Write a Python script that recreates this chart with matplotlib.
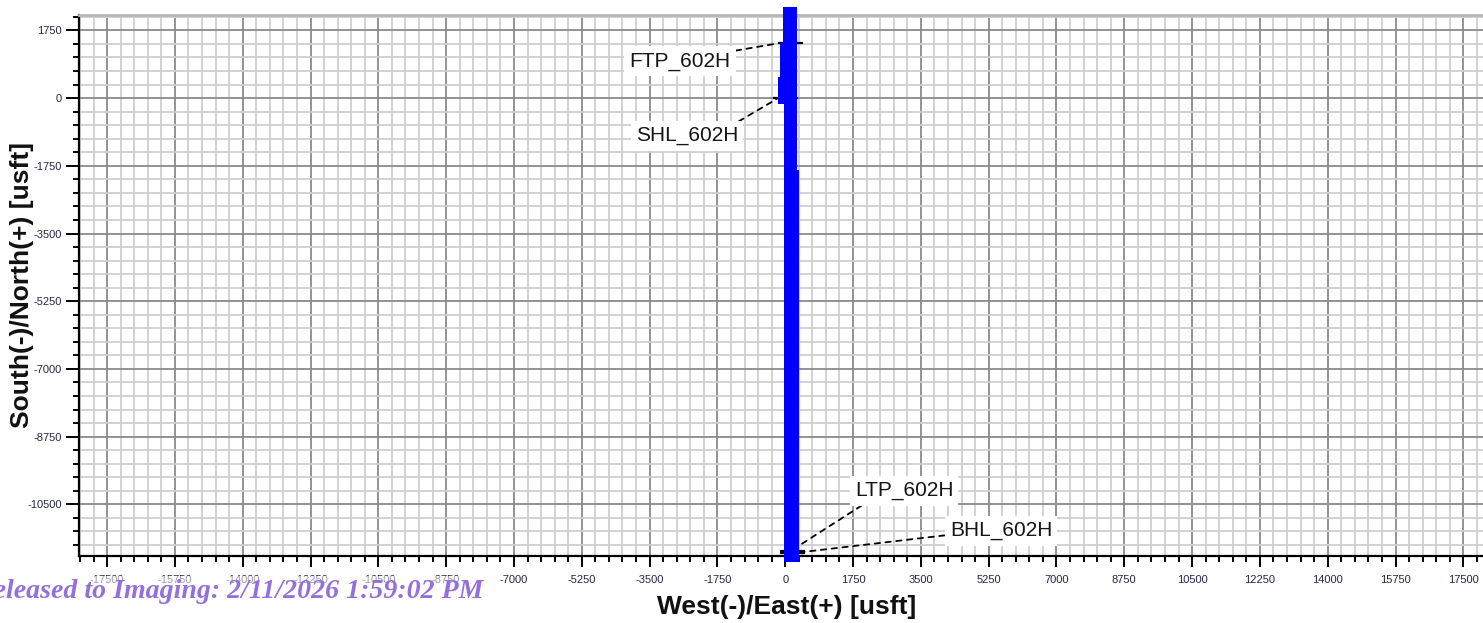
import matplotlib
matplotlib.use("Agg")
import matplotlib.pyplot as plt
import numpy as np
from matplotlib.ticker import MultipleLocator

# ---------------- data ----------------
# wellbore band (plan view), north segments and east edges [usft]
band_top_n = [2360, 1416, 545, -150, -1870]
band_bot_n = [1416, 545, -150, -1870, -11980]
band_west_e = [-65, -135, -194, -31, -31]
band_east_e = [312, 312, 312, 312, 364]

# target points
point_names = ["FTP_602H", "SHL_602H", "LTP_602H", "BHL_602H"]
point_e = [124, 0, 175, 175]
point_n = [1416, 0, -11706, -11771]
# leader-line anchors on the well
anchor_e = [-186, -220, 382, 459]
anchor_n = [1416, -24, -11551, -11732]

x_ticks = list(range(-17500, 17501, 1750))
y_ticks = list(range(-10500, 1751, 1750))

# ---------------- layout ----------------
W, H = 1483, 623
fig = plt.figure(figsize=(W / 100, H / 100), dpi=100)
ax_l, ax_r, ax_t, ax_b = 79, 1483, 15, 555.7
ax = fig.add_axes([ax_l / W, (H - ax_b) / H, (ax_r - ax_l) / W, (ax_b - ax_t) / H])
ax.set_xlim(-18225, 18008)
ax.set_ylim(-11828, 2148)

# grid
ax.xaxis.set_major_locator(MultipleLocator(1750))
ax.yaxis.set_major_locator(MultipleLocator(1750))
ax.xaxis.set_minor_locator(MultipleLocator(350))
ax.yaxis.set_minor_locator(MultipleLocator(350))
ax.grid(True, which="minor", color="#cfcfcf", linewidth=1.3, zorder=0)
ax.grid(True, which="major", color="#8a8a8a", linewidth=1.3, zorder=0)
ax.set_axisbelow(True)

ax.set_xticks(x_ticks)
ax.set_xticklabels([str(v) for v in x_ticks])
ax.set_yticks(y_ticks)
ax.set_yticklabels([str(v) for v in y_ticks])

tick_color = "#26264a"
ax.tick_params(axis="x", which="major", direction="out", length=8, width=1.4,
               labelsize=8, labelcolor=tick_color, pad=6)
ax.tick_params(axis="y", which="major", direction="out", length=9.5, width=1.4,
               labelsize=8, labelcolor=tick_color, pad=3)
ax.tick_params(which="minor", direction="out", length=4.5, width=1.4)
for lab in ax.get_xticklabels() + ax.get_yticklabels():
    lab.set_family("Liberation Sans")

for s in ["left", "bottom"]:
    ax.spines[s].set_color("black")
    ax.spines[s].set_linewidth(1.6)
ax.spines["top"].set_color("#b8b8b8")
ax.spines["top"].set_linewidth(2.0)
ax.spines["right"].set_visible(False)

# markers (under the band)
ax.plot(point_e, point_n, linestyle="none", marker="_", markersize=18,
        markeredgewidth=1.6, color="black", zorder=3, clip_on=False)

# wellbore band
for t, b, w, e in zip(band_top_n, band_bot_n, band_west_e, band_east_e):
    ax.fill_betweenx([b, t], w, e, color="#0000ff", linewidth=0, zorder=4, clip_on=False)

# labels
text_pos = {
    "FTP_602H": ((680 - 785.2) / 0.03875, (98.1 - 61) / 0.03869, (1.0, 1.0)),
    "SHL_602H": ((687 - 785.2) / 0.03875, (98.1 - 136) / 0.03869, (0.92, 1.0)),
    "LTP_602H": ((904 - 785.2) / 0.03875, (98.1 - 491) / 0.03869, (0.15, 0.0)),
    "BHL_602H": ((1001 - 785.2) / 0.03875, (98.1 - 531) / 0.03869, (0.0, 0.3)),
}
for name, ae, an in zip(point_names, anchor_e, anchor_n):
    tx, ty, rp = text_pos[name]
    ax.annotate(name, xy=(ae, an), xytext=(tx, ty), textcoords="data",
                ha="center", va="center", fontsize=15, family="Liberation Sans",
                color="#151515", zorder=6,
                bbox=dict(boxstyle="square,pad=0.25", facecolor="white", edgecolor="none"),
                arrowprops=dict(arrowstyle="-", linestyle=(0, (3, 3)), linewidth=1.3,
                                color="black", shrinkA=0, shrinkB=0, relpos=rp))

# axis titles
fig.text(787 / W, 1 - 607 / H, "West(-)/East(+) [usft]", ha="center", va="center",
         fontsize=19, fontweight="bold", family="Liberation Sans", color="#111111")
fig.text(22 / W, 1 - 285 / H, "South(-)/North(+) [usft]", ha="center", va="center",
         rotation=90, fontsize=19, fontweight="bold", family="Liberation Sans", color="#111111")

# watermark
fig.text(483 / W, 1 - 598 / H, "Released to Imaging: 2/11/2026 1:59:02 PM",
         ha="right", va="baseline", fontsize=20.1, fontweight="bold", style="italic",
         family="Liberation Serif", color="#9370db",
         bbox=dict(boxstyle="square,pad=0.1", facecolor="white", edgecolor="none", alpha=0.55))

fig.savefig("out.png", dpi=100)
